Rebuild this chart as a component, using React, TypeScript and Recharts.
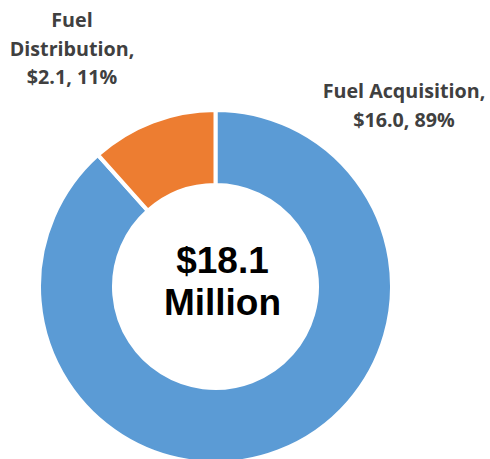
import React from 'react';
import { PieChart, Pie, Cell } from 'recharts';

const categories = ['Fuel Acquisition', 'Fuel Distribution'];
const values = [16.0, 2.1];
const percents = ['89%', '11%'];
const colors = ['#5B9BD5', '#ED7D31'];
const totalLabel = ['$18.1', 'Million'];

const data = categories.map((name, i) => ({ name, value: values[i], pct: percents[i] }));

// label blocks as Excel placed them (centre x, first baseline)
const labelSpots = [
  { x: 404, y: 98 },
  { x: 72, y: 27 },
];

const renderLabel = (props: any) => {
  const { index, name, value, pct } = props;
  const spot = labelSpots[index];
  const words = name.split(' ');
  const lines =
    index === 0
      ? [`${name},`, `$${value.toFixed(1)}, ${pct}`]
      : [words[0], `${words[1]},`, `$${value.toFixed(1)}, ${pct}`];
  return (
    <text
      key={`lbl-${index}`}
      x={spot.x}
      textAnchor="middle"
      fill="#404040"
      fontFamily="'Open Sans', sans-serif"
      fontWeight="bold"
      fontSize={19.7}
    >
      {lines.map((l, j) => (
        <tspan key={j} x={spot.x} y={spot.y + j * 28.5}>
          {l}
        </tspan>
      ))}
    </text>
  );
};

const App: React.FC = () => {
  const cx = 215.5;
  const cy = 286.5;
  return (
    <div style={{ position: 'absolute', left: 0, top: 0, width: 490, height: 459, background: '#fff' }}>
      <PieChart width={490} height={459} margin={{ top: 0, right: 0, bottom: 0, left: 0 }}>
        <Pie
          data={data}
          dataKey="value"
          nameKey="name"
          cx={cx}
          cy={cy}
          innerRadius={101.5}
          outerRadius={176.5}
          startAngle={90}
          endAngle={-270}
          stroke="#ffffff"
          strokeWidth={4}
          label={renderLabel}
          labelLine={false}
          isAnimationActive={false}
        >
          {data.map((d, i) => (
            <Cell key={d.name} fill={colors[i]} />
          ))}
        </Pie>
        <text
          x={cx + 7}
          textAnchor="middle"
          fill="#000"
          fontFamily="'Liberation Sans', Arial, sans-serif"
          fontWeight="bold"
          fontSize={37}
        >
          <tspan x={cx + 7} y={273}>{totalLabel[0]}</tspan>
          <tspan x={cx + 7} y={315}>{totalLabel[1]}</tspan>
        </text>
      </PieChart>
    </div>
  );
};

export default App;
